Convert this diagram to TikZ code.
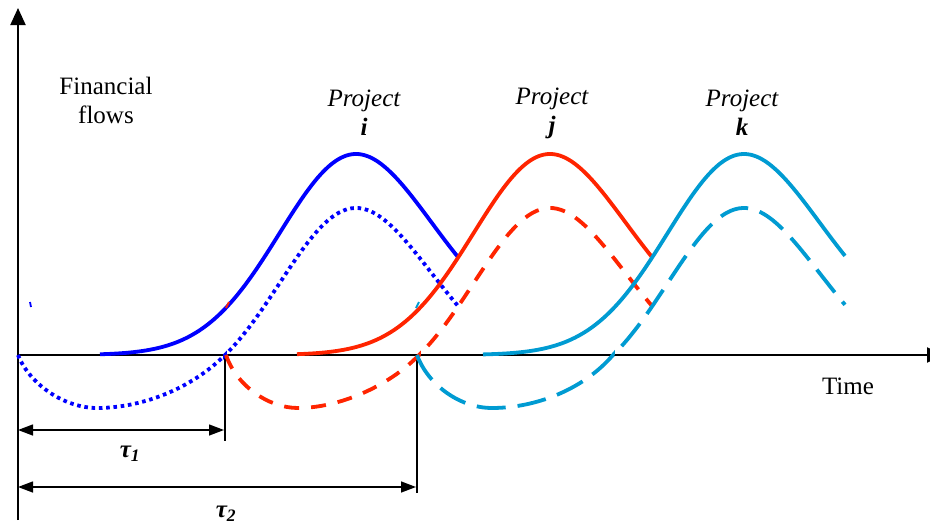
\documentclass[tikz,border=0pt]{standalone}
\usepackage{fontspec}
\setmainfont{Liberation Serif}
\usetikzlibrary{arrows.meta}
\definecolor{cblue}{RGB}{0,0,255}
\definecolor{cred}{RGB}{255,36,0}
\definecolor{ccyan}{RGB}{0,155,210}
\tikzset{
  declare function={gw(\x)=108+0.12*max(0,\x-356); gg(\x)=exp(-((\x-356)/gw(\x))^2);},
  axisline/.style={line width=2pt},
  flowsolid/.style={line width=3.8pt},
  flowdot/.style={line width=3.8pt, dash pattern=on 3.6pt off 3.7pt},
  flowdashr/.style={line width=3.8pt, dash pattern=on 15pt off 12pt},
  flowdashc/.style={line width=3.8pt, dash pattern=on 29pt off 12pt},
  dimline/.style={line width=1.4pt, {Triangle[length=15pt,width=11pt]}-{Triangle[length=15pt,width=11pt]}},
  guide/.style={line width=1.6pt},
  lbl/.style={font=\fontsize{25}{29}\selectfont, align=center, inner sep=0pt},
  mk/.style={line width=1.8pt}
}
\begin{document}
\begin{tikzpicture}[x=1pt,y=-1pt]
\useasboundingbox (0,0) rectangle (930,525);
\clip (0,0) rectangle (930,525);
% coordinates
\coordinate (O) at (18,355);
\coordinate (ytop) at (18,8);
\coordinate (ybot) at (18,520);
\coordinate (xend) at (944,355);
\coordinate (t1) at (225,355);
\coordinate (t1b) at (225,441);
\coordinate (t2) at (417,355);
\coordinate (t2b) at (417,493);
\coordinate (a1l) at (18,430);
\coordinate (a1r) at (224,430);
\coordinate (a2l) at (18,487);
\coordinate (a2r) at (416,487);
% axes
\draw[axisline] (ybot) -- (O);
\draw[axisline,-{Triangle[length=17pt,width=15pt]}] (O) -- (ytop);
\draw[axisline,-{Triangle[length=17pt,width=15pt]}] (O) -- (xend);
% guides
\draw[guide] (t1) -- (t1b);
\draw[guide] (t2) -- (t2b);
\draw[dimline] (a1l) -- (a1r);
\draw[dimline] (a2l) -- (a2r);
% project i
\draw[flowsolid,cblue] plot[smooth,domain=100:458,samples=70] (\x,{355-201*gg(\x)});
\draw[flowdot,cblue] (O) .. controls (30,385) and (65,408) .. (97,408)
   .. controls (140,408) and (190,390) .. (t1)
   -- plot[smooth,domain=225:458,samples=60] (\x,{355-(191*gg(\x)-44)});
% project j
\draw[flowsolid,cred] plot[smooth,domain=297:652,samples=70] (\x,{355-201*gg(\x-194)});
\draw[flowdashr,cred] (226,355) .. controls (236,385) and (268,408) .. (298,408)
   .. controls (338,408) and (388,387) .. (419,355)
   -- plot[smooth,domain=419:652,samples=60] (\x,{355-(191*gg(\x-194)-44)});
% project k
\draw[flowsolid,ccyan] plot[smooth,domain=483:845,samples=70] (\x,{355-201*gg(\x-388)});
\draw[flowdashc,ccyan] (t2) .. controls (428,385) and (460,408) .. (492,408)
   .. controls (535,408) and (583,390) .. (613,355)
   -- plot[smooth,domain=613:845,samples=60] (\x,{355-(191*gg(\x-388)-44)});
% tiny marks
\draw[mk,cblue] (30,302) -- (31,307);
\draw[mk,cred] (226,308) -- (229,302);
\draw[mk,ccyan] (416,308) -- (419,302);
% labels
\node[lbl] (ff) at (106,100) {Financial\\flows};
\node[lbl] (time) at (848,386) {Time};
\node[lbl] (pi) at (364,113) {\itshape Project\\\bfseries\itshape i};
\node[lbl] (pj) at (552,113) {\itshape Project\\\bfseries\itshape j};
\node[lbl] (pk) at (742,113) {\itshape Project\\\bfseries\itshape k};
\node[lbl] (tau1) at (130,454) {\bfseries\itshape τ\textsubscript{1}};
\node[lbl] (tau2) at (226,514) {\bfseries\itshape τ\textsubscript{2}};
\end{tikzpicture}
\end{document}
